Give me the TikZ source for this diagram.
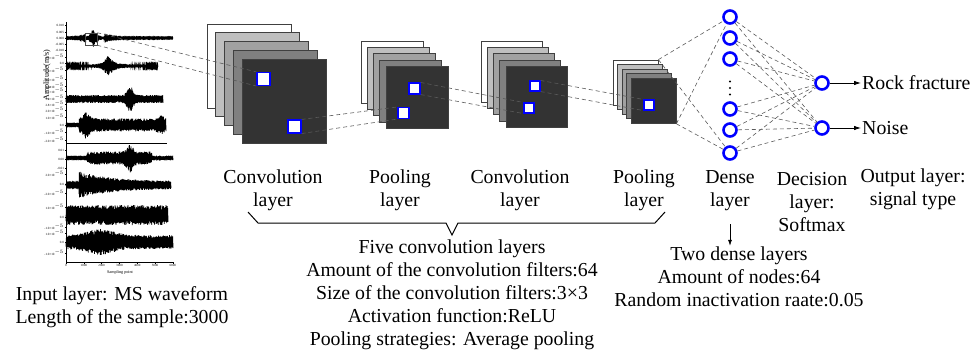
\documentclass[tikz,border=0pt]{standalone}
\usepackage{fontspec}
\setmainfont{Liberation Serif}
\usetikzlibrary{arrows.meta}

\begin{document}
\begin{tikzpicture}[x=1pt, y=-1pt, every node/.style={font=\fontsize{19.8}{23}\selectfont},
  fmap/.style={rectangle,draw=black!75,line width=0.8pt,inner sep=0pt},
  patch/.style={rectangle,draw=blue,fill=white,line width=1.1pt,inner sep=0pt},
  link/.style={dash pattern=on 4pt off 3pt, black!65, line width=0.6pt},
  unit/.style={circle,draw=blue,line width=2.6pt,minimum size=13pt,inner sep=0pt},
  lbl/.style={align=center,inner sep=1pt},
  tick/.style={font=\fontsize{3.2}{3.5}\selectfont,inner sep=0.5pt},
  wave/.style={line width=0.7pt},
  declare function={alt(\t)=ifthenelse(mod(round(\t),2)<0.5,1,-1);
    jit(\t)=alt(\t)*(0.55+0.45*rnd);
    aa(\x)=0.6+9*exp(-abs(\x-93)/2.5)+2*exp(-abs(\x-97)/8);
    ab(\x)=1.2+10*exp(-abs(\x-108)/3)+2.5*exp(-abs(\x-112)/12);
    ac(\x)=4+9*exp(-((\x-130)/4)^2);
    ad(\x)=ifthenelse(\x<79,2.5,6.5+8*exp(-abs(\x-86)/4)+3*exp(-((\x-161)/4)^2));
    ae(\x)=ifthenelse(\x<87,0.7,ifthenelse(\x<152,6.5+8*exp(-((\x-130)/4)^2),2.5));
    af(\x)=ifthenelse(\x<79,1.2,3.5+10*exp(-(\x-79)/35));
    ag(\x)=10;
    ah(\x)=7+6*exp(-((\x-100)/18)^2);}]
\useasboundingbox (0,0) rectangle (973,353);

% input waveforms
\pgfmathsetseed{11}
\draw[line width=0.6pt] (66,22) -- (66,262) -- (173,262);
\draw[line width=0.5pt] (66,143) -- (167,143);
\draw[line width=0.6pt] (66,38) -- (173,38);
\draw[wave] plot[domain=0:450, samples=451, variable=\t] ({66+\t*0.23778}, {38+aa(66+\t*0.23778)*jit(\t)});
\draw[wave] plot[domain=0:400, samples=401, variable=\t] ({66+\t*0.23}, {66+ab(66+\t*0.23)*jit(\t)});
\draw[wave] plot[domain=0:420, samples=421, variable=\t] ({66+\t*0.23095}, {99+ac(66+\t*0.23095)*jit(\t)});
\draw[wave] plot[domain=0:430, samples=431, variable=\t] ({66+\t*0.23256}, {125+ad(66+\t*0.23256)*jit(\t)});
\draw[wave] plot[domain=0:450, samples=451, variable=\t] ({66+\t*0.23778}, {158+ae(66+\t*0.23778)*jit(\t)});
\draw[wave] plot[domain=0:450, samples=451, variable=\t] ({66+\t*0.23333}, {185+af(66+\t*0.23333)*jit(\t)});
\draw[wave] plot[domain=0:440, samples=441, variable=\t] ({66+\t*0.23182}, {215+ag(66+\t*0.23182)*jit(\t)});
\draw[wave] plot[domain=0:450, samples=451, variable=\t] ({66+\t*0.23778}, {242+ah(66+\t*0.23778)*jit(\t)});
\foreach \y/\t in {25/0.010,32/0.005,38/0.000,44/-0.005,50/-0.010,57/1.0{\texttimes}10$^{-5}$,63/0.0,
    70/-1.0{\texttimes}10$^{-5}$,79/-2.0{\texttimes}10$^{-5}$,86/3.4{\texttimes}10$^{-5}$,91/3.2{\texttimes}10$^{-5}$,
    98/3.0{\texttimes}10$^{-5}$,104/2.8{\texttimes}10$^{-5}$,110/2.0{\texttimes}10$^{-5}$,117/1.0{\texttimes}10$^{-5}$,
    125/0.0,132/-1.0{\texttimes}10$^{-5}$,140/-2.0{\texttimes}10$^{-5}$,150/0.01,159/0.00,168/-0.01,
    174/2.0{\texttimes}10$^{-5}$,184/0.0,193/-2.0{\texttimes}10$^{-5}$,207/1.0{\texttimes}10$^{-5}$,217/0.0,
    227/-1.0{\texttimes}10$^{-5}$,233/1.0{\texttimes}10$^{-5}$,242/0.0,253/-1.0{\texttimes}10$^{-5}$}
  {\draw[line width=0.3pt] (66,\y) -- (64.5,\y) node[tick,anchor=east] {\t};}
\foreach \k in {0,...,6}
  {\draw[line width=0.3pt] ({66+17.8*\k},262) -- ({66+17.8*\k},263.5) node[tick,anchor=north] {\pgfmathparse{int(\k*1000)}\pgfmathresult};}
\node[font=\fontsize{4.2}{5}\selectfont] (xlab) at (120,272) {Sampling point};
\node[font=\fontsize{8}{9}\selectfont, rotate=90] (ylab) at (47,75) {Amplitude(m/s)};
\node[rectangle,draw=black!70,line width=0.5pt,minimum size=12pt,inner sep=0pt] (win) at (91,39) {};

% feature maps
\foreach \i/\c in {0/white,1/black!25,2/black!37,3/black!50,4/black!80}
  {\node[fmap, fill=\c, minimum size=84pt] (c1-\i) at ({249+8.75*\i},{66+8.75*\i}) {};}
\foreach \i/\c in {0/white,1/black!25,2/black!37,3/black!50,4/black!80}
  {\node[fmap, fill=\c, minimum size=62pt] (p1-\i) at ({392+6.25*\i},{72+6.4*\i}) {};}
\foreach \i/\c in {0/white,1/black!25,2/black!37,3/black!50,4/black!80}
  {\node[fmap, fill=\c, minimum size=61pt] (c2-\i) at ({511.5+6.25*\i},{71.5+6.4*\i}) {};}
\foreach \i/\c in {0/white,1/black!25,2/black!37,3/black!50,4/black!80}
  {\node[fmap, fill=\c, minimum size=45pt] (p2-\i) at ({635.5+4.5*\i},{82.5+4.6*\i}) {};}

\node[patch, minimum size=13pt] (s1) at (263.5,79) {};
\node[patch, minimum size=13pt] (s2) at (294.5,126.5) {};
\node[patch, minimum size=11pt] (s3) at (414.5,88.5) {};
\node[patch, minimum size=11pt] (s4) at (403.5,113) {};
\node[patch, minimum size=10pt] (s5) at (535,86) {};
\node[patch, minimum size=10pt] (s6) at (529,108) {};
\node[patch, minimum size=10pt] (s7) at (649,105) {};

\draw[link] (win.north east) -- (s1.north west);
\draw[link] (win.south east) -- (s1.south west);
\draw[link] (s2.north east) -- (s4.north west);
\draw[link] (s2.south east) -- (s4.south west);
\draw[link] (s3.north east) -- (s6.north west);
\draw[link] (s3.south east) -- (s6.south west);
\draw[link] (s5.north east) -- (s7.north west);
\draw[link] (s5.south east) -- (s7.south west);

% dense and decision layers
\foreach \n/\y in {1/17,2/38,3/59,5/109,6/130,7/153}
  {\node[unit] (d\n) at (730,\y) {};}
\coordinate (dots) at (730,88);
\foreach \k in {-1,0,1}
  {\fill ([yshift=6.5*\k pt]dots) circle (1.1pt);}
\node[unit] (o1) at (822,83) {};
\node[unit] (o2) at (822,128) {};

\draw[link] (p2-0.north east) -- (d1);
\draw[link] (p2-0.north east) -- (d7);
\draw[link] (p2-4.south east) -- (d1);
\draw[link] (p2-4.south east) -- (d7);
\foreach \n in {1,2,3,5,6,7}
  {\foreach \o in {1,2} {\draw[link] (d\n) -- (o\o);}}

\node[anchor=west, inner sep=1pt] (rf) at (861,83) {Rock fracture};
\node[anchor=west, inner sep=1pt] (ns) at (861,128) {Noise};
\draw[-{Latex[length=7pt,width=4.5pt]}, line width=0.8pt] (o1) -- (rf);
\draw[-{Latex[length=7pt,width=4.5pt]}, line width=0.8pt] (o2) -- (ns);

% labels
\node[lbl] (lc1) at (273,190) {Convolution\\layer};
\node[lbl] (lp1) at (400,190) {Pooling\\layer};
\node[lbl] (lc2) at (520,190) {Convolution\\layer};
\node[lbl] (lp2) at (644,190) {Pooling\\layer};
\node[lbl] (ldense) at (730,191) {Dense\\layer};
\node[lbl] (ldec) at (812,202) {Decision\\layer:\\Softmax};
\node[lbl] (lout) at (913,189) {Output layer:\\signal type};

\draw[line width=1pt] (248,212) -- (258,223) -- (446,223) -- (452,235) -- (458,223) -- (655,223) -- (665,212);

\node[lbl] (lconv) at (452,295) {Five convolution layers\\Amount of the convolution filters:64\\Size of the convolution filters:3\texttimes3\\Activation function:ReLU\\Pooling strategies: Average pooling};
\node[lbl] (lnet) at (739,277) {Two dense layers\\Amount of nodes:64\\Random inactivation raate:0.05};
\node[lbl] (lin) at (122,307) {Input layer: MS waveform\\Length of the sample:3000};
\draw[-{Latex[length=6pt,width=4pt]}, line width=0.6pt, shorten <=12pt] (ldense.south) -- (ldense.south |- lnet.north);
\end{tikzpicture}
\end{document}
